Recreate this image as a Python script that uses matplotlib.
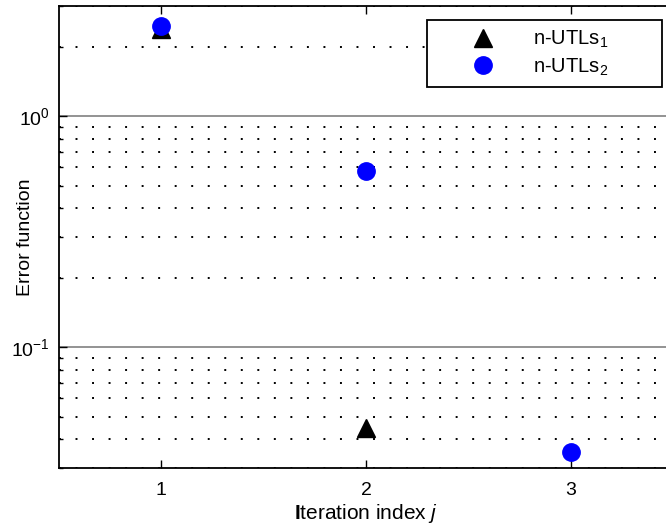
import matplotlib
matplotlib.use("Agg")
import matplotlib.pyplot as plt
from matplotlib.ticker import LogLocator, NullFormatter
from matplotlib.lines import Line2D

plt.rcParams['font.family'] = ['Liberation Sans', 'DejaVu Sans']
plt.rcParams['mathtext.fontset'] = 'custom'
plt.rcParams['mathtext.rm'] = 'Liberation Sans'
plt.rcParams['mathtext.it'] = 'Liberation Sans:italic'
plt.rcParams['mathtext.bf'] = 'Liberation Sans:bold'

# Error function per iteration
iter_utls1 = [1, 2]
err_utls1 = [2.38, 0.0447]
iter_utls2 = [1, 2, 3]
err_utls2 = [2.46, 0.580, 0.0353]
x_ticks = [1, 2, 3]
series_labels = [r'n-UTLs$_\mathregular{1}$', r'n-UTLs$_\mathregular{2}$']

fig = plt.figure(figsize=(6.66, 5.26), dpi=100)
ax = fig.add_axes([58.5 / 666, 58 / 526, 615 / 666, 462 / 526])

ax.set_yscale('log')
ax.set_xlim(0.5, 3.5)
ax.set_ylim(0.03, 3)

ax.plot(iter_utls1, err_utls1, linestyle='none', marker='^', markersize=12.5,
        color='black', zorder=3)
ax.plot(iter_utls2, err_utls2, linestyle='none', marker='o', markersize=12.5,
        color='blue', markeredgecolor='blue', zorder=4)

ax.set_xticks(x_ticks)
ax.set_xticklabels([str(t) for t in x_ticks])
ax.yaxis.set_major_locator(LogLocator(base=10, numticks=10))
ax.yaxis.set_minor_locator(LogLocator(base=10, subs=range(2, 10), numticks=20))
ax.yaxis.set_minor_formatter(NullFormatter())

ax.grid(True, which='major', axis='y', color='#808080', linewidth=1.2, linestyle='-')
ax.grid(True, which='minor', axis='y', color='black', linewidth=1.4,
        linestyle=(0, (1, 7.5)))
ax.set_axisbelow(True)

ax.tick_params(axis='both', which='both', direction='in', top=True, right=True,
               labelsize=14, width=1)
ax.tick_params(axis='both', which='major', length=6)
ax.tick_params(axis='y', which='minor', length=3)
ax.tick_params(axis='x', pad=10)
ax.tick_params(axis='y', pad=6)
for s in ax.spines.values():
    s.set_linewidth(1.3)
    s.set_color('black')

ax.set_xlabel(r'$\mathbf{I}$teration index $\mathit{j}$', fontsize=15, labelpad=2)
ax.set_ylabel('Error function', fontsize=14)
ax.yaxis.set_label_coords((34 - 58.5) / 615, 0.5)

handles = [
    Line2D([], [], linestyle='none', marker='^', markersize=12.5, color='black'),
    Line2D([], [], linestyle='none', marker='o', markersize=12.5, color='blue'),
]
leg = fig.legend(handles, series_labels, loc='upper left',
                 bbox_to_anchor=(427 / 666, 1 - 89 / 526, 235 / 666, 69 / 526),
                 bbox_transform=fig.transFigure, borderaxespad=0, mode='expand',
                 fontsize=14.5, frameon=True, fancybox=False, framealpha=1,
                 edgecolor='black', handletextpad=0.1, borderpad=0.45,
                 labelspacing=0.3, handlelength=4.7)
leg.get_frame().set_linewidth(1.3)

fig.savefig('out.png', dpi=100)
